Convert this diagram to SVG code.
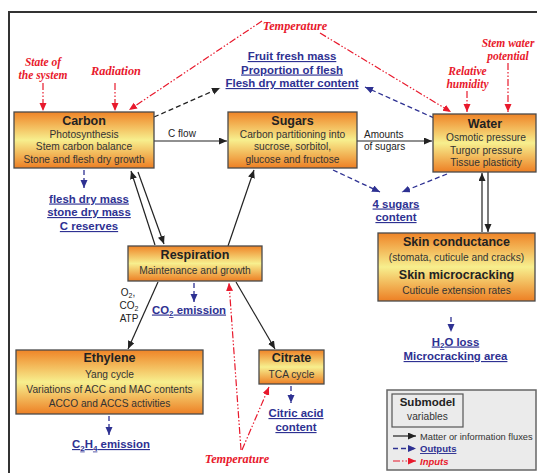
<svg xmlns="http://www.w3.org/2000/svg" width="537" height="473" viewBox="0 0 537 473">
<style>
.box{fill:url(#g);stroke:#4a4a4a;stroke-width:1.3}
.t{font-family:"Liberation Sans",Arial,sans-serif;font-weight:bold;font-size:12.5px;fill:#222;text-anchor:middle}
.b{font-family:"Liberation Sans",Arial,sans-serif;font-size:10.2px;fill:#333;text-anchor:middle}
.o{font-family:"Liberation Sans",Arial,sans-serif;font-weight:bold;font-size:11.4px;fill:#2e3192;text-anchor:middle;text-decoration:underline}
.i{font-family:"Liberation Serif","Times New Roman",serif;font-weight:bold;font-style:italic;font-size:12.3px;fill:#e8192c;text-anchor:middle}
.i2{font-size:11.5px}
.k{fill:none;stroke:#222;stroke-width:1.2;marker-end:url(#ak)}
.bl{fill:none;stroke:#2e3192;stroke-width:1.3;stroke-dasharray:5 3;marker-end:url(#ab)}
.kd{fill:none;stroke:#222;stroke-width:1.3;stroke-dasharray:5 3;marker-end:url(#ak)}
.r{fill:none;stroke:#e8192c;stroke-width:1.2;stroke-dasharray:7 2 1.5 2 1.5 2;marker-end:url(#ar)}
.s{font-family:"Liberation Sans",Arial,sans-serif;font-size:10px;fill:#222;text-anchor:middle}
.sl{font-family:"Liberation Sans",Arial,sans-serif;font-size:10px;fill:#222;text-anchor:start}
</style>
<defs>
<linearGradient id="g" x1="0" y1="0" x2="0" y2="1">
<stop offset="0" stop-color="#ef8427"/>
<stop offset="0.5" stop-color="#f7ef8e"/>
<stop offset="1" stop-color="#ed7f24"/>
</linearGradient>
<marker id="ak" markerUnits="userSpaceOnUse" markerWidth="9" markerHeight="8" refX="8" refY="3.5" orient="auto"><path d="M0,0 L8,3.5 L0,7 z" fill="#222"/></marker>
<marker id="ab" markerUnits="userSpaceOnUse" markerWidth="9" markerHeight="8" refX="8" refY="3.5" orient="auto"><path d="M0,0 L8,3.5 L0,7 z" fill="#2e3192"/></marker>
<marker id="ar" markerUnits="userSpaceOnUse" markerWidth="9" markerHeight="8" refX="8" refY="3.5" orient="auto"><path d="M0,0 L8,3.5 L0,7 z" fill="#e8192c"/></marker>
</defs>
<rect width="537" height="473" fill="#fff"/>
<path d="M9 480 V12 H540" fill="none" stroke="#333" stroke-width="2"/>

<g id="connectors">
<path class="r" d="M43 83 V111"/>
<path class="r" d="M115 83 V111"/>
<path class="r" d="M262 21 L129 110"/>
<path class="r" d="M320 33 L451 112"/>
<path class="r" d="M467 91 V112"/>
<path class="r" d="M508 63 V112"/>
<path class="r" d="M241 450 L229 283"/>
<path class="r" d="M242 450 L269 387"/>
<path class="kd" d="M154 117 L220 88"/>
<path class="bl" d="M434 118 L365 87"/>
<path class="bl" d="M84 170 V188"/>
<path class="bl" d="M333 170 L380 192"/>
<path class="bl" d="M447 174 L402 192"/>
<path class="bl" d="M194 283 V302"/>
<path class="bl" d="M451 317 V332"/>
<path class="bl" d="M109 416 V435"/>
<path class="bl" d="M291 386 V403"/>
<path class="k" d="M154 141 H227"/>
<path class="k" d="M357 141 H432"/>
<path class="k" d="M155 245 L131 171"/>
<path class="k" d="M138 172 L164 244"/>
<path class="k" d="M228 246 L254 170"/>
<path class="k" d="M158 282 L128 349"/>
<path class="k" d="M236 282 L275 349"/>
<path class="k" d="M482 232 V173"/>
<path class="k" d="M488 172 V232"/>
<text class="s" x="182" y="136.5">C flow</text>
<text class="sl" x="364" y="138">Amounts</text>
<text class="sl" x="364" y="149.5">of sugars</text>
<text class="s" x="128" y="296">O<tspan font-size="7" dy="2">2</tspan><tspan dy="-2">,</tspan></text>
<text class="s" x="129" y="308.5">CO<tspan font-size="7" dy="2">2</tspan></text>
<text class="s" x="129" y="321.5">ATP</text>
</g>

<g id="carbon">
<rect class="box" x="14" y="112" width="140" height="56"/>
<text class="t" x="84" y="124.5">Carbon</text>
<text class="b" x="84" y="137.5">Photosynthesis</text>
<text class="b" x="84" y="150">Stem carbon balance</text>
<text class="b" x="84" y="163">Stone and flesh dry growth</text>
</g>
<g id="sugars">
<rect class="box" x="228" y="112" width="129" height="56"/>
<text class="t" x="292.5" y="124.5">Sugars</text>
<text class="b" x="292.5" y="137.5">Carbon partitioning into</text>
<text class="b" x="292.5" y="150">sucrose, sorbitol,</text>
<text class="b" x="292.5" y="163">glucose and fructose</text>
</g>
<g id="water">
<rect class="box" x="433" y="114" width="103" height="58"/>
<text class="t" x="485" y="128">Water</text>
<text class="b" x="486" y="141">Osmotic pressure</text>
<text class="b" x="486" y="153.5">Turgor pressure</text>
<text class="b" x="486" y="165.5">Tissue plasticity</text>
</g>
<g id="skin">
<rect class="box" x="378" y="233" width="157" height="68"/>
<text class="t" x="456.5" y="245.5">Skin conductance</text>
<text class="b" x="456.5" y="260.5">(stomata, cuticule and cracks)</text>
<text class="t" x="456.5" y="279">Skin microcracking</text>
<text class="b" x="456.5" y="294">Cuticule extension rates</text>
</g>
<g id="respiration">
<rect class="box" x="128" y="246" width="134" height="35"/>
<text class="t" x="195" y="259">Respiration</text>
<text class="b" x="195" y="274">Maintenance and growth</text>
</g>
<g id="ethylene">
<rect class="box" x="16" y="350" width="187" height="64"/>
<text class="t" x="109.5" y="362">Ethylene</text>
<text class="b" x="109.5" y="377.5">Yang cycle</text>
<text class="b" x="109.5" y="392.5">Variations of ACC and MAC contents</text>
<text class="b" x="109.5" y="407">ACCO and ACCS activities</text>
</g>
<g id="citrate">
<rect class="box" x="259" y="350" width="65" height="34"/>
<text class="t" x="291.5" y="362">Citrate</text>
<text class="b" x="291.5" y="377.5">TCA cycle</text>
</g>

<g id="outputs">
<text class="o" x="292" y="60">Fruit fresh mass</text>
<text class="o" x="292" y="73.5">Proportion of flesh</text>
<text class="o" x="292" y="87">Flesh dry matter content</text>
<text class="o" x="89" y="202.5">flesh dry mass</text>
<text class="o" x="89" y="216">stone dry mass</text>
<text class="o" x="89" y="230">C reserves</text>
<text class="o" x="396" y="207.5">4 sugars</text>
<text class="o" x="396" y="221">content</text>
<text class="o" x="189" y="313.5">CO<tspan font-size="8" dy="2.5">2</tspan><tspan dy="-2.5"> emission</tspan></text>
<text class="o" x="455.5" y="345.5">H<tspan font-size="8" dy="2.5">2</tspan><tspan dy="-2.5">O loss</tspan></text>
<text class="o" x="455.5" y="360">Microcracking area</text>
<text class="o" x="111" y="448">C<tspan font-size="8" dy="2.5">2</tspan><tspan dy="-2.5">H</tspan><tspan font-size="8" dy="2.5">4</tspan><tspan dy="-2.5"> emission</tspan></text>
<text class="o" x="296" y="417">Citric acid</text>
<text class="o" x="296" y="431">content</text>
</g>

<g id="inputs">
<text class="i" x="295" y="30">Temperature</text>
<text class="i i2" x="43" y="66">State of</text>
<text class="i i2" x="43" y="78.5">the system</text>
<text class="i" x="116" y="75">Radiation</text>
<text class="i i2" x="467.5" y="75">Relative</text>
<text class="i i2" x="467.5" y="87.5">humidity</text>
<text class="i i2" x="508" y="47">Stem water</text>
<text class="i i2" x="508" y="59.5">potential</text>
<text class="i" x="237" y="462.5">Temperature</text>
</g>

<g id="legend">
<rect x="387" y="390" width="149" height="80" fill="#ebebeb" stroke="#666" stroke-width="1.5"/>
<rect x="392" y="394" width="71" height="33" fill="#ebebeb" stroke="#555" stroke-width="1.2"/>
<text class="t" x="427.5" y="406" style="font-size:11.5px">Submodel</text>
<text class="b" x="427.5" y="420">variables</text>
<path class="k" d="M393 436 H416"/>
<path class="bl" d="M393 448.5 H416"/>
<path class="r" d="M393 461 H416"/>
<text x="420" y="439.5" font-family="Liberation Sans, Arial, sans-serif" font-size="9.3" fill="#333">Matter or information fluxes</text>
<text x="420" y="452" font-family="Liberation Sans, Arial, sans-serif" font-size="9.5" font-weight="bold" fill="#2e3192" text-decoration="underline">Outputs</text>
<text x="420" y="464.5" font-family="Liberation Sans, Arial, sans-serif" font-size="9.5" font-weight="bold" font-style="italic" fill="#e8192c">Inputs</text>
</g>
</svg>
